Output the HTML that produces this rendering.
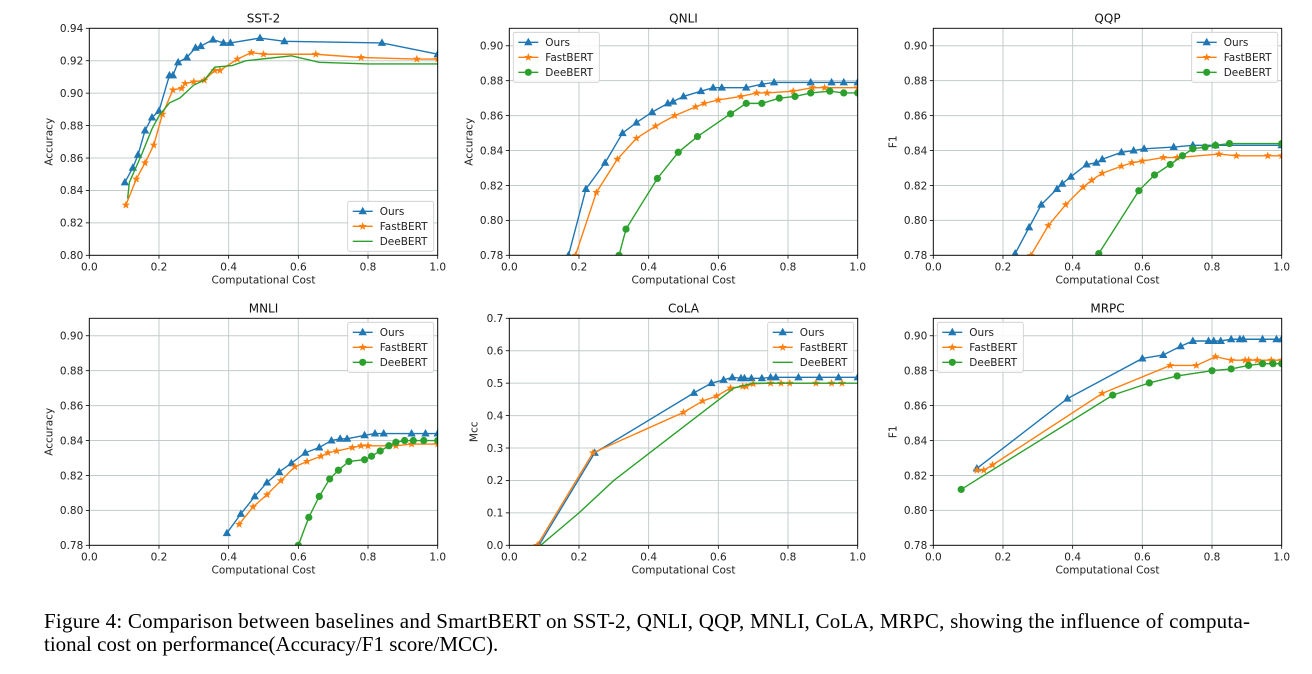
<!DOCTYPE html>
<html><head><meta charset="utf-8"><style>
html,body{margin:0;padding:0;background:#fff;width:1312px;height:674px;overflow:hidden}
svg{display:block}
</style></head><body>
<svg id="fig" width="1312" height="674" xmlns="http://www.w3.org/2000/svg" font-family="'DejaVu Sans','Liberation Sans',sans-serif"></svg>
<script>
// ---- data ----
const sst2Ours = [[0.102,.845],[0.125,.854],[0.14,.862],[0.16,.877],[0.18,.885],[0.2,.889],[0.23,.911],[0.24,.911],[0.255,.919],[0.28,.922],[0.305,.928],[0.32,.929],[0.355,.933],[0.385,.931],[0.405,.931],[0.49,.934],[0.56,.932],[0.84,.931],[1.0,.924]];
const sst2Fast = [[0.105,.831],[0.135,.847],[0.16,.857],[0.185,.868],[0.21,.887],[0.24,.902],[0.265,.903],[0.275,.906],[0.3,.907],[0.33,.908],[0.36,.914],[0.375,.914],[0.425,.921],[0.465,.925],[0.5,.924],[0.65,.924],[0.78,.922],[0.94,.921],[1.0,.921]];
const sst2Dee = [[0.11,.835],[0.115,.845],[0.15,.862],[0.18,.878],[0.2,.886],[0.23,.894],[0.26,.897],[0.3,.905],[0.33,.908],[0.36,.916],[0.41,.917],[0.45,.920],[0.58,.923],[0.66,.919],[0.8,.918],[1.0,.918]];
const qnliOurs = [[0.17,.78],[0.22,.818],[0.275,.833],[0.325,.850],[0.365,.856],[0.41,.862],[0.455,.867],[0.47,.868],[0.5,.871],[0.55,.874],[0.585,.876],[0.61,.876],[0.68,.876],[0.725,.878],[0.76,.879],[0.865,.879],[0.925,.879],[0.96,.879],[1.0,.879]];
const qnliFast = [[0.19,.78],[0.25,.816],[0.31,.835],[0.365,.847],[0.42,.854],[0.475,.860],[0.535,.865],[0.56,.867],[0.6,.869],[0.665,.871],[0.71,.873],[0.74,.873],[0.815,.874],[0.87,.876],[0.905,.876],[1.0,.876]];
const qnliDee = [[0.315,.78],[0.335,.795],[0.425,.824],[0.485,.839],[0.54,.848],[0.635,.861],[0.68,.867],[0.725,.867],[0.775,.870],[0.82,.871],[0.865,.873],[0.92,.874],[0.96,.873],[1.0,.873]];
const qqpOurs = [[0.235,.781],[0.275,.796],[0.31,.809],[0.355,.818],[0.37,.821],[0.395,.825],[0.44,.832],[0.468,.833],[0.485,.835],[0.54,.839],[0.575,.840],[0.605,.841],[0.69,.842],[0.745,.843],[0.81,.843],[1.0,.843]];
const qqpFast = [[0.28,.78],[0.33,.797],[0.38,.809],[0.43,.819],[0.455,.823],[0.485,.827],[0.54,.831],[0.57,.833],[0.6,.834],[0.66,.836],[0.7,.836],[0.82,.838],[0.87,.837],[0.96,.837],[1.0,.837]];
const qqpDee = [[0.475,.781],[0.59,.817],[0.635,.826],[0.68,.832],[0.715,.837],[0.745,.841],[0.78,.842],[0.81,.843],[0.85,.844],[1.0,.844]];
const mnliOurs = [[0.395,.787],[0.435,.798],[0.475,.808],[0.51,.816],[0.545,.822],[0.58,.827],[0.62,.833],[0.66,.836],[0.695,.840],[0.72,.841],[0.74,.841],[0.79,.843],[0.82,.844],[0.845,.844],[0.925,.844],[0.965,.844],[1.0,.844]];
const mnliFast = [[0.43,.792],[0.47,.802],[0.51,.809],[0.55,.817],[0.59,.825],[0.625,.828],[0.665,.831],[0.685,.833],[0.71,.834],[0.755,.836],[0.78,.837],[0.8,.837],[0.86,.837],[0.88,.837],[0.925,.838],[1.0,.838]];
const mnliDee = [[0.6,.78],[0.63,.796],[0.66,.808],[0.69,.818],[0.715,.823],[0.745,.828],[0.79,.829],[0.81,.831],[0.835,.834],[0.86,.837],[0.88,.839],[0.905,.840],[0.93,.840],[0.96,.840],[1.0,.840]];
const colaOurs = [[0.085,0.0],[0.245,.285],[0.53,.47],[0.58,.50],[0.615,.51],[0.64,.518],[0.665,.515],[0.675,.515],[0.695,.515],[0.725,.515],[0.75,.518],[0.765,.518],[0.83,.518],[0.89,.518],[0.945,.518],[1.0,.518]];
const colaFast = [[0.08,0],[0.24,.285],[0.5,.41],[0.555,.445],[0.595,.46],[0.635,.485],[0.67,.49],[0.68,.49],[0.7,.498],[0.75,.5],[0.78,.5],[0.805,.5],[0.88,.5],[0.925,.5],[0.955,.5]];
const colaDee = [[0.09,0],[0.2,.1],[0.3,.2],[0.645,.485],[0.7,.5],[1.0,.5]];
const mrpcOurs = [[0.125,.824],[0.385,.864],[0.6,.887],[0.66,.889],[0.71,.894],[0.745,.897],[0.79,.897],[0.805,.897],[0.825,.897],[0.855,.898],[0.88,.898],[0.89,.898],[0.945,.898],[0.985,.898],[1.0,.898]];
const mrpcFast = [[0.125,.823],[0.145,.823],[0.17,.826],[0.485,.867],[0.68,.883],[0.755,.883],[0.81,.888],[0.855,.886],[0.895,.886],[0.905,.886],[0.93,.886],[0.97,.886],[1.0,.886]];
const mrpcDee = [[0.08,.812],[0.515,.866],[0.62,.873],[0.7,.877],[0.8,.880],[0.855,.881],[0.905,.883],[0.945,.884],[0.975,.884],[1.0,.884]];
const xTicks = [0.0,0.2,0.4,0.6,0.8,1.0];
const yTicksSST = [0.80,0.82,0.84,0.86,0.88,0.90,0.92,0.94];
const yTicksStd = [0.78,0.80,0.82,0.84,0.86,0.88,0.90];
const yTicksCola = [0.0,0.1,0.2,0.3,0.4,0.5,0.6,0.7];
const seriesNames = ["Ours","FastBERT","DeeBERT"];

const NS="http://www.w3.org/2000/svg";
const svg=document.getElementById('fig');
const C=["#1f77b4","#ff7f0e","#2ca02c"];
function mk(tag,attrs,parent){const e=document.createElementNS(NS,tag);for(const k in attrs)e.setAttribute(k,attrs[k]);(parent||svg).appendChild(e);return e;}
function marker(g,type,x,y,color,s){
  let e;
  if(type==='tri'){e=mk('polygon',{points:`${x},${y-4.5} ${x-4.2},${y+3} ${x+4.2},${y+3}`,fill:color},g);}
  else if(type==='star'){let p=[];for(let i=0;i<10;i++){const r=i%2?1.8:4.3;const a=-Math.PI/2+i*Math.PI/5;p.push((x+r*Math.cos(a)).toFixed(2)+','+(y+r*Math.sin(a)).toFixed(2));}e=mk('polygon',{points:p.join(' '),fill:color},g);}
  else {e=mk('circle',{cx:x,cy:y,r:3.6,fill:color},g);}
  return e;
}
const panels=[
 {name:'sst2',title:'SST-2',L:89.3,R:437.7,T:28.3,B:255.3,y0:0.80,y1:0.94,ticks:yTicksSST,ylab:'Accuracy',data:[sst2Ours,sst2Fast,sst2Dee],mk:['tri','star',null],leg:'lr',dig:2},
 {name:'qnli',title:'QNLI',L:509.3,R:857.7,T:28.3,B:255.3,y0:0.78,y1:0.91,ticks:yTicksStd,ylab:'Accuracy',data:[qnliOurs,qnliFast,qnliDee],mk:['tri','star','circ'],leg:'ul',dig:2},
 {name:'qqp',title:'QQP',L:933.3,R:1281.7,T:28.3,B:255.3,y0:0.78,y1:0.91,ticks:yTicksStd,ylab:'F1',data:[qqpOurs,qqpFast,qqpDee],mk:['tri','star','circ'],leg:'ur',dig:2},
 {name:'mnli',title:'MNLI',L:89.3,R:437.7,T:318.3,B:545.3,y0:0.78,y1:0.91,ticks:yTicksStd,ylab:'Accuracy',data:[mnliOurs,mnliFast,mnliDee],mk:['tri','star','circ'],leg:'ur',dig:2},
 {name:'cola',title:'CoLA',L:509.3,R:857.7,T:318.3,B:545.3,y0:0,y1:0.7,ticks:yTicksCola,ylab:'Mcc',data:[colaOurs,colaFast,colaDee],mk:['tri','star',null],leg:'ur',dig:1},
 {name:'mrpc',title:'MRPC',L:933.3,R:1281.7,T:318.3,B:545.3,y0:0.78,y1:0.91,ticks:yTicksStd,ylab:'F1',data:[mrpcOurs,mrpcFast,mrpcDee],mk:['tri','star','circ'],leg:'ul',dig:2}
];
panels.forEach(p=>{
  const g=mk('g',{});
  
  
  const sx=v=>p.L+(p.R-p.L)*v;
  const sy=v=>p.B-(p.B-p.T)*(v-p.y0)/(p.y1-p.y0);
  const cid='clip-'+p.name;
  const cp=mk('clipPath',{id:cid},g);mk('rect',{x:p.L,y:p.T,width:p.R-p.L,height:p.B-p.T},cp);
  xTicks.forEach(t=>{
    const l=mk('line',{x1:sx(t),x2:sx(t),y1:p.T,y2:p.B,stroke:'#c3cccc','stroke-width':1},g);
    
    mk('line',{x1:sx(t),x2:sx(t),y1:p.B,y2:p.B+3.5,stroke:'#000','stroke-width':0.8},g);
    const tx=mk('text',{x:sx(t),y:p.B+15,'text-anchor':'middle','font-size':10.5,fill:'#222'},g);tx.textContent=t.toFixed(1);
    
  });
  p.ticks.forEach(t=>{
    const l=mk('line',{x1:p.L,x2:p.R,y1:sy(t),y2:sy(t),stroke:'#c3cccc','stroke-width':1},g);
    
    mk('line',{x1:p.L-3.5,x2:p.L,y1:sy(t),y2:sy(t),stroke:'#000','stroke-width':0.8},g);
    const tx=mk('text',{x:p.L-6,y:sy(t)+3.8,'text-anchor':'end','font-size':10.5,fill:'#222'},g);tx.textContent=t.toFixed(p.dig);
    
  });
  const sg=mk('g',{'clip-path':`url(#${cid})`},g);
  p.data.forEach((d,i)=>{
    const pl=mk('polyline',{points:d.map(q=>sx(q[0]).toFixed(2)+','+sy(q[1]).toFixed(2)).join(' '),fill:'none',stroke:C[i],'stroke-width':1.4},sg);
    
    
    if(p.mk[i]) d.forEach(q=>{
      const m=marker(sg,p.mk[i],sx(q[0]),sy(q[1]),C[i]);
      
      
    });
  });
  const fr=mk('rect',{x:p.L,y:p.T,width:p.R-p.L,height:p.B-p.T,fill:'none',stroke:'#000','stroke-width':0.9},g);
  
  const ti=mk('text',{x:(p.L+p.R)/2,y:p.T-6,'text-anchor':'middle','font-size':12,fill:'#111'},g);ti.textContent=p.title;
  
  const xl=mk('text',{x:(p.L+p.R)/2,y:p.B+28,'text-anchor':'middle','font-size':10.5,fill:'#222'},g);xl.textContent='Computational Cost';
  
  const yx=p.L-(p.dig===1?32:37), yy=(p.T+p.B)/2;
  const yl=mk('text',{x:yx,y:yy,'text-anchor':'middle','font-size':10.5,fill:'#222',transform:`rotate(-90 ${yx} ${yy})`},g);yl.textContent=p.ylab;
  
  const lw=86,lh=50;
  let lx,ly;
  if(p.leg==='lr'){lx=p.R-lw-4;ly=p.B-lh-4;}else if(p.leg==='ul'){lx=p.L+4;ly=p.T+4;}else{lx=p.R-lw-4;ly=p.T+4;}
  const lg=mk('g',{},g);
  
  mk('rect',{x:lx,y:ly,width:lw,height:lh,rx:2,fill:'#fff','fill-opacity':0.85,stroke:'#ccc','stroke-width':0.8},lg);
  seriesNames.forEach((n,i)=>{
    const ey=ly+10+i*15;
    const eg=mk('g',{},lg);
    
    
    mk('line',{x1:lx+5,x2:lx+25,y1:ey,y2:ey,stroke:C[i],'stroke-width':1.4},eg);
    if(p.mk[i]) marker(eg,p.mk[i],lx+15,ey,C[i]);
    const t=mk('text',{x:lx+32,y:ey+3.8,'font-size':10.5,fill:'#222'},eg);t.textContent=n;
  });
});
</script>
<svg style="position:absolute;left:0;top:0" width="1312" height="674" xmlns="http://www.w3.org/2000/svg">
<text x="44" y="628" font-family="'Liberation Serif',serif" font-size="21" fill="#000" textLength="1206" lengthAdjust="spacing">Figure 4: Comparison between baselines and SmartBERT on SST-2, QNLI, QQP, MNLI, CoLA, MRPC, showing the influence of computa-</text>
<text x="44" y="651" font-family="'Liberation Serif',serif" font-size="21" fill="#000">tional cost on performance(Accuracy/F1 score/MCC).</text>
</svg>
</body></html>
